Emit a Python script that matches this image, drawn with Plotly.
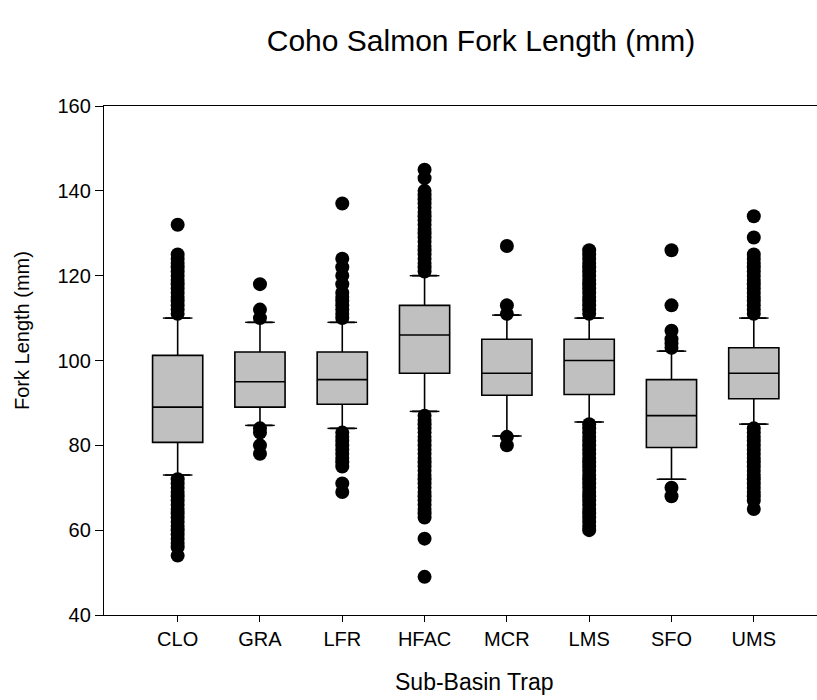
import plotly.graph_objects as go

categories = ["CLO", "GRA", "LFR", "HFAC", "MCR", "LMS", "SFO", "UMS"]
q1 = [80.7, 89.0, 89.7, 97.0, 91.8, 92.0, 79.5, 91.0]
median = [89.0, 95.0, 95.5, 106.0, 97.0, 100.0, 87.0, 97.0]
q3 = [101.2, 102.0, 102.0, 113.0, 105.0, 105.0, 95.5, 103.0]
lower_whisker = [73.0, 84.7, 84.0, 88.0, 82.2, 85.5, 72.0, 85.0]
upper_whisker = [110.0, 109.0, 109.0, 120.0, 110.7, 110.0, 102.2, 110.0]

outliers = {
    "CLO": [111, 112, 113, 114, 115, 116, 117, 118, 119, 120, 121, 122, 123, 124, 125, 132,
            72, 71, 70, 69, 68, 67, 66, 65, 64, 63, 62, 61, 60, 59, 58, 57, 56, 54],
    "GRA": [110, 112, 118, 84, 83, 80, 78],
    "LFR": [110, 111, 112, 113, 114, 115, 116, 118, 120, 122, 124, 137,
            83, 82, 81, 80, 79, 78, 77, 76, 75, 71, 69],
    "HFAC": [121, 122, 123, 124, 125, 126, 127, 128, 129, 130, 131, 132, 133, 134, 135, 136,
             137, 138, 139, 140, 143, 145,
             87, 86, 85, 84, 83, 82, 81, 80, 79, 78, 77, 76, 75, 74, 73, 72, 71, 70, 69, 68,
             67, 66, 65, 64, 63, 58, 49],
    "MCR": [111, 113, 127, 82, 80],
    "LMS": [111, 112, 113, 114, 115, 116, 117, 118, 119, 120, 121, 122, 123, 124, 125, 126,
            85, 84, 83, 82, 81, 80, 79, 78, 77, 76, 75, 74, 73, 72, 71, 70, 69, 68, 67, 66,
            65, 64, 63, 62, 61, 60],
    "SFO": [103, 104, 105, 107, 113, 126, 70, 68],
    "UMS": [111, 112, 113, 114, 115, 116, 117, 118, 119, 120, 121, 122, 123, 124, 125, 129, 134,
            84, 83, 82, 81, 80, 79, 78, 77, 76, 75, 74, 73, 72, 71, 70, 69, 68, 67, 65],
}

y_ticks = [40, 60, 80, 100, 120, 140, 160]

FONT = "Liberation Sans, Arial, sans-serif"
W, H = 817, 700
ML, MT, MB, MR = 104, 106, 85, 0

fig = go.Figure()

for i, cat in enumerate(categories):
    fig.add_trace(go.Box(
        x=[i], q1=[q1[i]], median=[median[i]], q3=[q3[i]],
        lowerfence=[lower_whisker[i]], upperfence=[upper_whisker[i]],
        orientation="v", boxpoints=False, width=0.61,
        fillcolor="#C0C0C0", line=dict(color="black", width=1.6),
        showlegend=False, hoverinfo="skip",
    ))

# whisker caps
cap_x, cap_y = [], []
half = 0.18
for i in range(len(categories)):
    for v in (lower_whisker[i], upper_whisker[i]):
        cap_x += [i - half, i + half, None]
        cap_y += [v, v, None]
fig.add_trace(go.Scatter(x=cap_x, y=cap_y, mode="lines",
                         line=dict(color="black", width=1.4),
                         showlegend=False, hoverinfo="skip"))

# outliers
ox, oy = [], []
for i, cat in enumerate(categories):
    for v in outliers[cat]:
        ox.append(i)
        oy.append(v)
fig.add_trace(go.Scatter(x=ox, y=oy, mode="markers",
                         marker=dict(color="black", size=14, line=dict(width=0)),
                         showlegend=False, hoverinfo="skip"))

fig.update_layout(
    width=W, height=H,
    margin=dict(l=ML, r=MR, t=MT, b=MB),
    paper_bgcolor="white", plot_bgcolor="white",
    font=dict(family=FONT, size=20, color="black"),
    xaxis=dict(
        range=[-0.895, 7.768], tickmode="array",
        tickvals=list(range(len(categories))), ticktext=categories,
        showgrid=False, zeroline=False, showline=True, linecolor="black", linewidth=1.4,
        mirror=True, ticks="outside", ticklen=6, tickwidth=1.4, tickcolor="black",
        tickfont=dict(size=20, family=FONT),
    ),
    yaxis=dict(
        range=[40, 160], tickmode="array", tickvals=y_ticks,
        showgrid=False, zeroline=False, showline=True, linecolor="black", linewidth=1.4,
        ticks="outside", ticklen=8, tickwidth=1.4, tickcolor="black",
        tickfont=dict(size=20, family=FONT),
    ),
    title=dict(text="Coho Salmon Fork Length (mm)", x=481 / W, xanchor="center",
               y=1 - 40 / H, yanchor="middle", yref="container",
               font=dict(size=30, family=FONT, color="black")),
)

pw = W - ML - MR
ph = H - MT - MB
fig.add_annotation(text="Sub-Basin Trap", xref="paper", yref="paper",
                   x=(474 - ML) / pw, y=-(682 - (MT + ph)) / ph,
                   showarrow=False, xanchor="center", yanchor="middle",
                   font=dict(size=23, family=FONT, color="black"))
fig.add_annotation(text="Fork Length (mm)", xref="paper", yref="paper",
                   x=-(ML - 22) / pw, y=1 - (331 - MT) / ph, textangle=-90,
                   showarrow=False, xanchor="center", yanchor="middle",
                   font=dict(size=20, family=FONT, color="black"))

fig.write_html("out.html")
